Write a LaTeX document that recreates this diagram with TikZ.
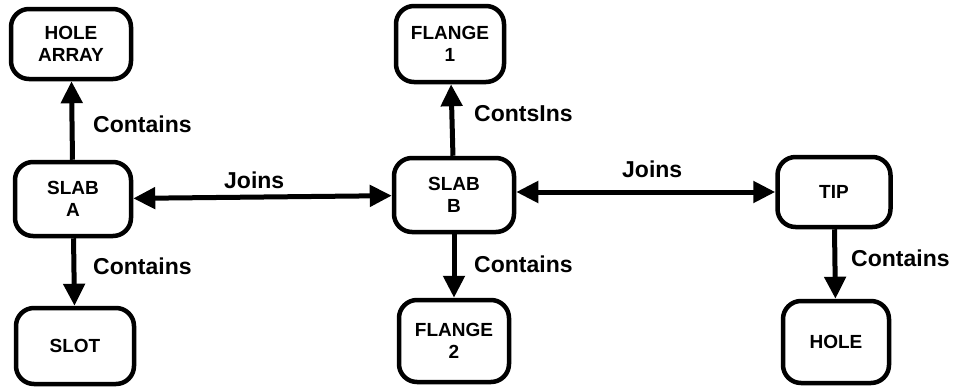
\documentclass[tikz,border=0pt]{standalone}
\usepackage{fontspec}
\setmainfont{Liberation Sans}
\usetikzlibrary{arrows.meta}
\tikzset{
  box/.style={draw=black, line width=4.5pt, rounded corners=18pt, align=center,
    font=\fontsize{19}{22}\selectfont\bfseries, inner sep=0pt},
  conn/.style={line width=5pt, -{Triangle[length=22pt,width=21pt]}},
  biconn/.style={line width=5pt, {Triangle[length=22pt,width=21pt]}-{Triangle[length=22pt,width=21pt]}},
  lbl/.style={font=\fontsize{23}{26}\selectfont\bfseries, anchor=west, inner sep=0pt}
}
\begin{document}
\begin{tikzpicture}[x=1pt,y=-1pt]
\useasboundingbox (0,0) rectangle (961,388);
\node[box, minimum width=120pt, minimum height=70pt] (ha) at (71,44) {HOLE\\ARRAY};
\node[box, minimum width=116pt, minimum height=74pt] (sa) at (73,199) {SLAB\\A};
\node[box, minimum width=118pt, minimum height=76pt] (slot) at (75,346) {SLOT};
\node[box, minimum width=108pt, minimum height=76pt] (f1) at (450,44) {FLANGE\\1};
\node[box, minimum width=120pt, minimum height=74pt] (sb) at (454,195) {SLAB\\B};
\node[box, minimum width=110pt, minimum height=82pt] (f2) at (454,341) {FLANGE\\2};
\node[box, minimum width=113pt, minimum height=70pt] (tip) at (834,192) {TIP};
\node[box, minimum width=106pt, minimum height=82pt] (hole) at (836,342) {HOLE};
\draw[conn] (sa) -- (ha);
\draw[conn] (sa) -- (slot);
\draw[biconn] (sa) -- (sb);
\draw[conn] (sb) -- (f1);
\draw[conn] (sb) -- (f2);
\draw[biconn] (sb.east |- tip.west) -- (tip);
\draw[conn] (tip) -- (hole);
\node[lbl] (l1) at (93,124) {Contains};
\node[lbl] (l2) at (93,266) {Contains};
\node[lbl] (l3) at (474,114) {ContsIns};
\node[lbl] (l4) at (474,264) {Contains};
\node[lbl] (l5) at (851,258) {Contains};
\node[lbl] (l6) at (224,180) {Joins};
\node[lbl] (l7) at (622,169) {Joins};
\end{tikzpicture}
\end{document}
